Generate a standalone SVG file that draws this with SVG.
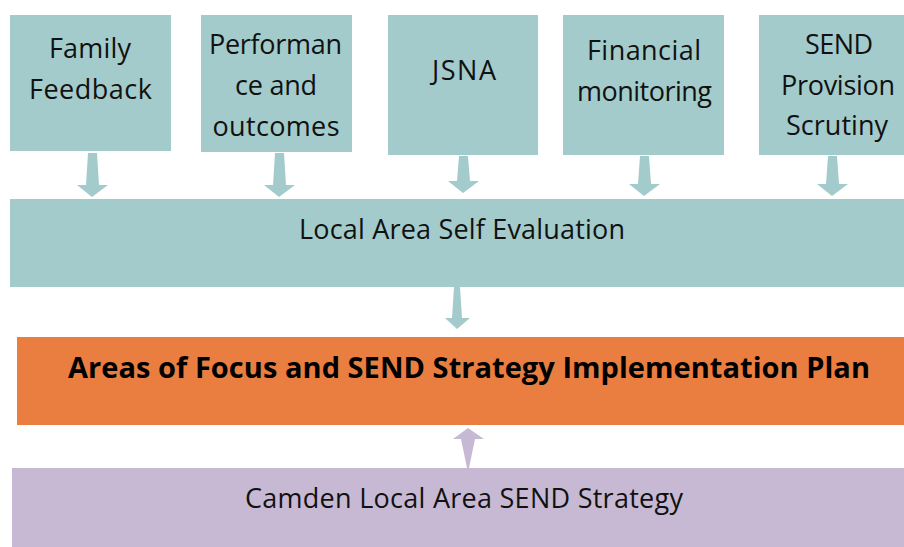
<svg xmlns="http://www.w3.org/2000/svg" width="904" height="547" viewBox="0 0 904 547">
<style>
.teal{fill:#A3CBCB}
.orange{fill:#E97E40}
.purple{fill:#C7B9D3}
.t{font-family:"Open Sans","Liberation Sans",sans-serif;font-size:27px;fill:#111;text-anchor:middle}
.b{font-family:"Open Sans","Liberation Sans",sans-serif;font-size:29px;font-weight:bold;fill:#000;text-anchor:middle}
</style>
<rect width="904" height="547" fill="#fff"/>
<g id="connectors">
<polygon class="teal" points="88,153 97,153 99,185 108,185 92,197 77,185 86,185"/>
<polygon class="teal" points="275,153 284,153 286,185 295,185 279,197 264,185 273,185"/>
<polygon class="teal" points="459,156 468,156 470,181 479,181 463,193 448,181 457,181"/>
<polygon class="teal" points="640,156 649,156 651,184 660,184 644,196 629,184 638,184"/>
<polygon class="teal" points="828,156 837,156 839,184 848,184 832,196 817,184 826,184"/>
<polygon class="teal" points="454,287 460,287 462,318 470,318 457,329 445,318 452,318"/>
<polygon class="purple" points="468,428 484,439 475,439 469,468 467,468 461,439 453,439"/>
</g>
<g id="family-feedback">
<rect class="teal" x="10" y="15" width="161" height="136"/>
<text class="t" x="90" y="58" textLength="82">Family</text>
<text class="t" x="90.5" y="99" textLength="123">Feedback</text>
</g>
<g id="performance">
<rect class="teal" x="201" y="15" width="151" height="137"/>
<text class="t" x="275.5" y="54" textLength="133">Performan</text>
<text class="t" x="276" y="95" textLength="82">ce and</text>
<text class="t" x="276" y="136" textLength="127">outcomes</text>
</g>
<g id="jsna">
<rect class="teal" x="388" y="15" width="150" height="140"/>
<text class="t" x="464" y="80" textLength="64">JSNA</text>
</g>
<g id="financial">
<rect class="teal" x="563" y="15" width="161" height="140"/>
<text class="t" x="644" y="60" textLength="114">Financial</text>
<text class="t" x="644.5" y="101" textLength="135">monitoring</text>
</g>
<g id="send-provision">
<rect class="teal" x="759" y="15" width="145" height="140"/>
<text class="t" x="839" y="54" textLength="68">SEND</text>
<text class="t" x="838" y="95" textLength="114">Provision</text>
<text class="t" x="837" y="135" textLength="102">Scrutiny</text>
</g>
<g id="self-evaluation">
<rect class="teal" x="10" y="199" width="894" height="88"/>
<text class="t" x="462" y="239" textLength="326">Local Area Self Evaluation</text>
</g>
<g id="implementation-plan">
<rect class="orange" x="17" y="337" width="887" height="88"/>
<text class="b" x="469" y="378" textLength="802">Areas of Focus and SEND Strategy Implementation Plan</text>
</g>
<g id="strategy">
<rect class="purple" x="12" y="468" width="892" height="79"/>
<text class="t" x="464" y="508" textLength="438">Camden Local Area SEND Strategy</text>
</g>
</svg>
